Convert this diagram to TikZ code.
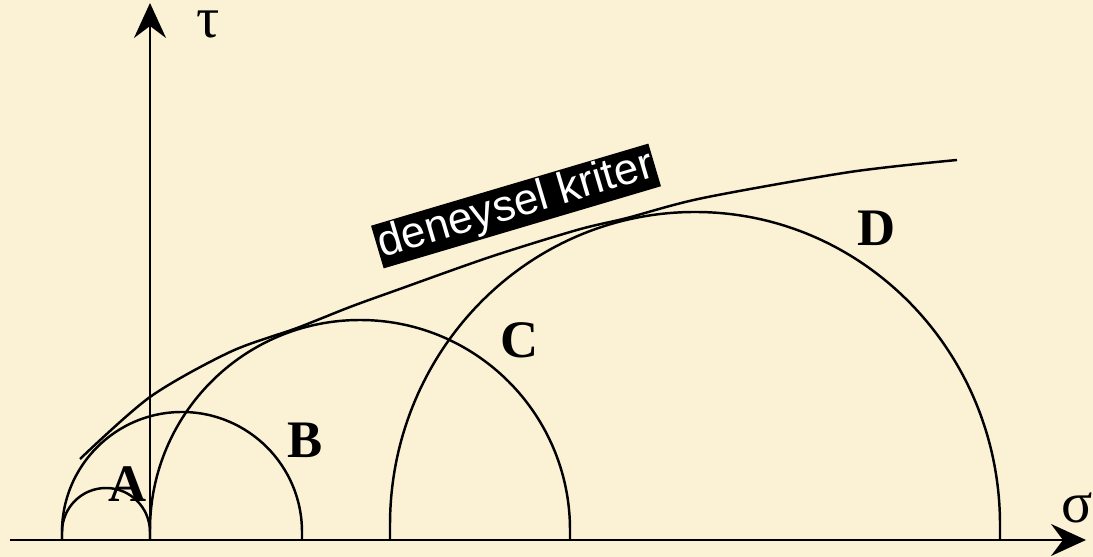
\documentclass[tikz,border=0pt]{standalone}
\usepackage{fontspec}
\setmainfont{Liberation Serif}
\setsansfont{Liberation Sans}
\usetikzlibrary{arrows.meta}
\definecolor{parchment}{RGB}{251,242,214}

\begin{document}
\begin{tikzpicture}[
    x=0.2mm, y=0.2mm, line width=1.4pt,
    >={Stealth[length=7mm, width=6.4mm, inset=2.4mm]}
  ]
  \useasboundingbox[fill=parchment] (-150,-17) rectangle (943,540);

  % axes
  \coordinate (origin) at (0,0);
  \coordinate (sigmaend) at (936,0);
  \coordinate (tauend) at (0,537);
  \draw[->] (-140,0) -- (sigmaend);
  \draw[->] (origin) -- (tauend);
  \node[font=\fontsize{33}{36}\selectfont, inner sep=1pt] (taulabel)
    at (58,516) {τ};
  \node[font=\fontsize{33}{36}\selectfont, inner sep=1pt] (sigmalabel)
    at (927,32) {σ};

  % Mohr circles
  \foreach \xl/\rx/\s/\ry in {-88/44/8/44, -88/120/8/120,
                              0/210/10/210, 240/305/15/313}
    \draw (\xl,0) -- ++(0,\s)
      arc[start angle=180, end angle=0, x radius=\rx, y radius=\ry]
      -- ++(0,-\s);

  % envelope
  \draw plot[smooth, tension=0.5] coordinates {(-70,81) (0,143) (80,188)
    (147,212) (200,233) (247,250) (340,283) (427,310) (477,322)
    (553,342) (700,368) (807,380)};

  \node[fill=black, text=white, font=\sffamily\fontsize{25}{27}\selectfont,
        rotate=16.5, inner sep=1pt] (kriter) at (366,334) {deneysel kriter};

  \node[font=\bfseries\fontsize{30}{34}\selectfont] (labA) at (-22,56) {A};
  \node[font=\bfseries\fontsize{30}{34}\selectfont] (labB) at (155,100) {B};
  \node[font=\bfseries\fontsize{30}{34}\selectfont] (labC) at (370,200) {C};
  \node[font=\bfseries\fontsize{30}{34}\selectfont] (labD) at (727,312) {D};
\end{tikzpicture}
\end{document}
